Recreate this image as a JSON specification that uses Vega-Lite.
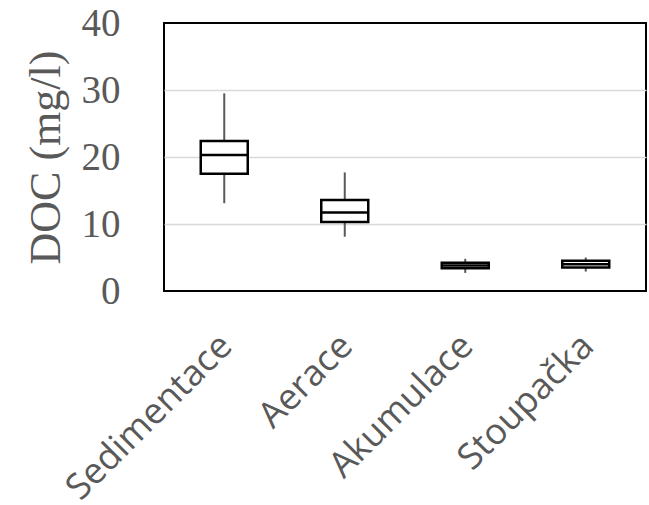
{
  "$schema": "https://vega.github.io/schema/vega-lite/v6.json",
  "width": 482,
  "height": 268,
  "autosize": "none",
  "padding": {"left": 164, "top": 23, "right": 3, "bottom": 214},
  "background": "white",
  "config": {"view": {"stroke": "black", "strokeWidth": 2}},
  "data": {"values": [
    {"cat": "Sedimentace", "lower": 13.1, "q1": 17.5, "median": 20.3, "q3": 22.4, "upper": 29.5},
    {"cat": "Aerace", "lower": 8.1, "q1": 10.3, "median": 11.7, "q3": 13.6, "upper": 17.7},
    {"cat": "Akumulace", "lower": 2.7, "q1": 3.4, "median": 3.8, "q3": 4.2, "upper": 4.8},
    {"cat": "Stoupačka", "lower": 2.9, "q1": 3.5, "median": 4.0, "q3": 4.5, "upper": 5.0}
  ]},
  "encoding": {
    "x": {
      "field": "cat", "type": "nominal", "sort": null,
      "scale": {"paddingInner": 0, "paddingOuter": 0},
      "axis": {
        "title": null, "domain": false, "ticks": false, "grid": false,
        "labelAngle": -45, "labelAlign": "right", "labelBaseline": "top",
        "labelPadding": 37, "labelOffset": -10, "labelLimit": 0,
        "labelFont": "Open Sans", "labelFontSize": 36, "labelColor": "#595959"
      }
    }
  },
  "layer": [
    {
      "mark": {"type": "rule", "color": "#595959", "strokeWidth": 2},
      "encoding": {
        "y": {
          "field": "lower", "type": "quantitative",
          "scale": {"domain": [0, 40], "nice": false},
          "axis": {
            "title": "DOC (mg/l)", "titleFont": "Liberation Serif", "titleFontSize": 44,
            "titleFontWeight": "normal", "titleColor": "#595959", "titlePadding": 13,
            "values": [0, 10, 20, 30, 40],
            "labelFont": "Liberation Serif", "labelFontSize": 39, "labelColor": "#595959",
            "labelPadding": 44, "ticks": false, "domain": false,
            "grid": true, "gridWidth": 1.5,
            "gridColor": {"condition": {"test": "datum.value == 0 || datum.value == 40", "value": "transparent"}, "value": "#d9d9d9"}
          }
        },
        "y2": {"field": "upper"}
      }
    },
    {
      "mark": {"type": "bar", "fill": "white", "stroke": "black", "strokeWidth": 2.5, "size": 47},
      "encoding": {
        "y": {"field": "q1", "type": "quantitative"},
        "y2": {"field": "q3"}
      }
    },
    {
      "mark": {"type": "tick", "color": "black", "opacity": 1, "thickness": 2.5, "size": 47, "orient": "horizontal"},
      "encoding": {
        "y": {"field": "median", "type": "quantitative"}
      }
    }
  ]
}
